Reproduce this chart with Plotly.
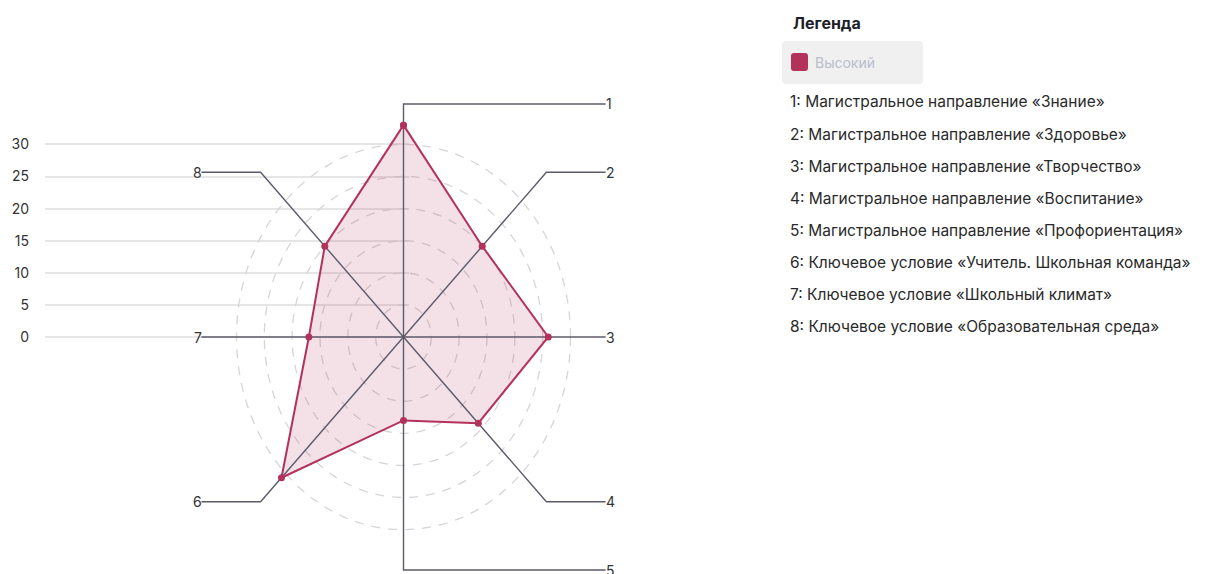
import plotly.graph_objects as go
import numpy as np

# ---- data ----
axis_ids = ["1", "2", "3", "4", "5", "6", "7", "8"]
categories = [
    "Магистральное направление «Знание»",
    "Магистральное направление «Здоровье»",
    "Магистральное направление «Творчество»",
    "Магистральное направление «Воспитание»",
    "Магистральное направление «Профориентация»",
    "Ключевое условие «Учитель. Школьная команда»",
    "Ключевое условие «Школьный климат»",
    "Ключевое условие «Образовательная среда»",
]
values = [33, 20, 26, 19, 13, 31, 17, 20]
series_name = "Высокий"
grid_ticks = [0, 5, 10, 15, 20, 25, 30]
ring_levels = [5, 10, 15, 20, 25, 30]

# ---- layout constants ----
W, H = 1206, 574
OFF = 8                     # page body margin
cx, cy = 403.5 - OFF, 337.0 - OFF   # radar centre in figure px
sx, sy = 5.567, 6.42        # px per value unit (horizontal / vertical)
SERIES = "#b3325c"
AXIS_C = "#5c5b6b"
TXT = "#333333"
FONT = "Inter"

n = len(values)
theta = np.arange(n) * 2 * np.pi / n
R = 1.1 * max(values)

xs = np.array(values) * np.sin(theta)
ys = np.array(values) * np.cos(theta)

fig = go.Figure()

# invisible trace on the grid subplot
fig.add_trace(go.Scatter(x=[0], y=[0], xaxis="x", yaxis="y", mode="markers",
                         marker=dict(opacity=0), hoverinfo="skip", showlegend=False))

# dashed rings
for lv in ring_levels:
    fig.add_shape(type="circle", xref="x2", yref="y2", x0=-lv, x1=lv, y0=-lv, y1=lv,
                  line=dict(color="#d6d6d6", width=1.3, dash="9px,8px"), layer="below")

# fill polygon
fig.add_trace(go.Scatter(x=list(xs) + [xs[0]], y=list(ys) + [ys[0]], xaxis="x2", yaxis="y2",
                         mode="lines", fill="toself", fillcolor="rgba(179,50,92,0.15)",
                         line=dict(width=0), hoverinfo="skip", showlegend=False))

# spokes + leader lines
lx, ly = [], []
for i, th in enumerate(theta):
    ex, ey = R * np.sin(th), R * np.cos(th)
    side = -1 if ex < -1e-9 else 1
    lx += [0, ex, side * R, None]
    ly += [0, ey, ey, None]
fig.add_trace(go.Scatter(x=lx, y=ly, xaxis="x2", yaxis="y2", mode="lines",
                         line=dict(color=AXIS_C, width=1.4), hoverinfo="skip", showlegend=False))

# series outline + markers
fig.add_trace(go.Scatter(x=list(xs) + [xs[0]], y=list(ys) + [ys[0]], xaxis="x2", yaxis="y2",
                         mode="lines+markers", name=series_name,
                         line=dict(color=SERIES, width=2),
                         marker=dict(color=SERIES, size=7), showlegend=False))

# axis id labels
for i, th in enumerate(theta):
    ex, ey = R * np.sin(th), R * np.cos(th)
    right = ex >= -1e-9
    fig.add_annotation(x=(R if right else -R), y=ey, xref="x2", yref="y2",
                       text=axis_ids[i], showarrow=False,
                       xanchor="left" if right else "right", yanchor="middle",
                       xshift=-2 if right else 3,
                       font=dict(family=FONT, size=14, color=TXT))

# ---- legend (right side) ----
def px(x):
    return (x - OFF) / W


def py(y):
    return 1 - (y - OFF) / H


fig.add_annotation(x=px(791), y=py(23), xref="paper", yref="paper", text="<b>Легенда</b>",
                   showarrow=False, xanchor="left", yanchor="middle",
                   font=dict(family=FONT, size=16, color="#1e1e2a"))


def rrect(x0, y0, x1, y1, r):
    def P(x, y):
        return f"{px(x):.6f},{py(y):.6f}"
    return (f"M {P(x0 + r, y0)} L {P(x1 - r, y0)} Q {P(x1, y0)} {P(x1, y0 + r)} "
            f"L {P(x1, y1 - r)} Q {P(x1, y1)} {P(x1 - r, y1)} L {P(x0 + r, y1)} "
            f"Q {P(x0, y1)} {P(x0, y1 - r)} L {P(x0, y0 + r)} Q {P(x0, y0)} {P(x0 + r, y0)} Z")


fig.add_shape(type="path", xref="paper", yref="paper", path=rrect(782, 41, 923, 84, 4),
              fillcolor="#f0f0f1", line=dict(width=0))
fig.add_shape(type="path", xref="paper", yref="paper", path=rrect(791, 53, 808, 71, 3),
              fillcolor=SERIES, line=dict(width=0))
fig.add_annotation(x=px(813), y=py(62), xref="paper", yref="paper", text=series_name,
                   showarrow=False, xanchor="left", yanchor="middle",
                   font=dict(family=FONT, size=14, color="#b9bdcc"))

for i, (aid, cat) in enumerate(zip(axis_ids, categories)):
    ypx = 102 + i * 32.1
    fig.add_annotation(x=px(788), y=py(ypx), xref="paper", yref="paper",
                       text=f"{aid}: {cat}", showarrow=False, xanchor="left", yanchor="middle",
                       font=dict(family=FONT, size=15.5, color="#2a2a2a"))

yr = [(cy - H) / sy, cy / sy]
fig.update_layout(
    width=W, height=H, margin=dict(l=0, r=0, t=0, b=0),
    paper_bgcolor="white", plot_bgcolor="rgba(0,0,0,0)",
    showlegend=False,
    xaxis=dict(domain=[px(45), px(409)], visible=False, range=[0, 1], fixedrange=True),
    yaxis=dict(domain=[0, 1], range=yr, tickvals=grid_ticks, showgrid=True,
               gridcolor="#e6e6e6", gridwidth=1.6, zeroline=False, showline=False,
               ticks="", ticklabelstandoff=15,
               tickfont=dict(family=FONT, size=14, color=TXT), anchor="x"),
    xaxis2=dict(domain=[0, 1], range=[-cx / sx, (W - cx) / sx], visible=False, anchor="y2"),
    yaxis2=dict(domain=[0, 1], range=yr, visible=False, anchor="x2"),
)

fig.write_html("out.html")
